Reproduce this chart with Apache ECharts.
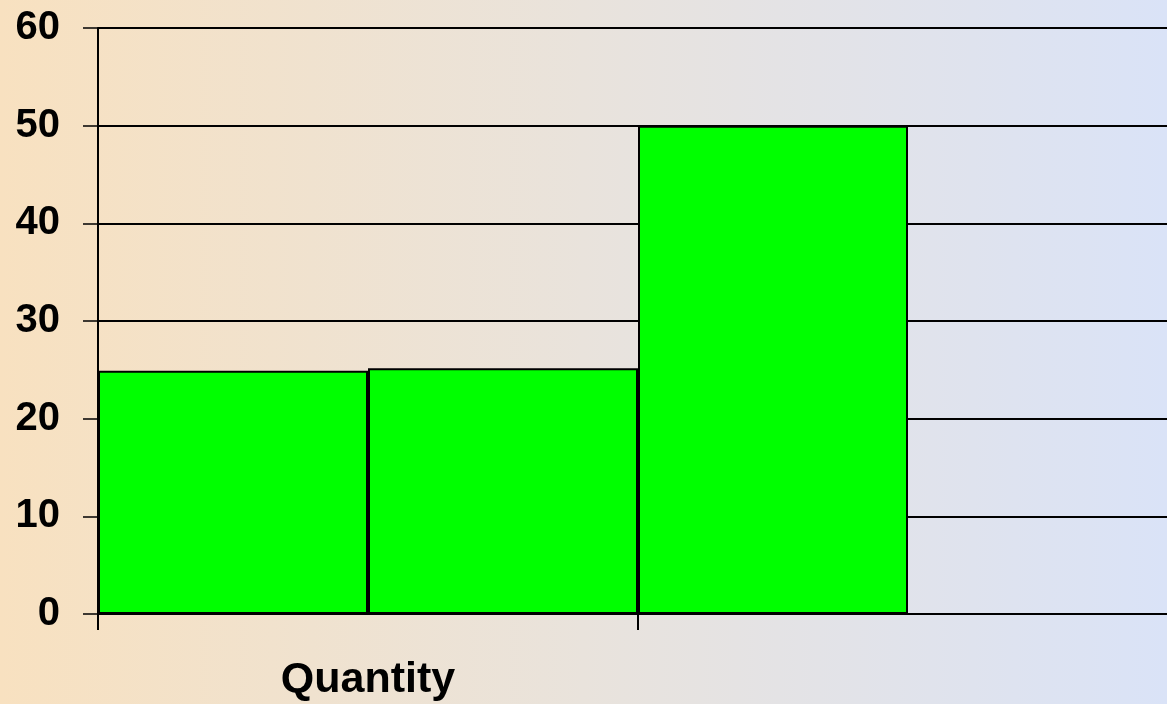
<!DOCTYPE html>
<html>
<head>
<meta charset="utf-8">
<script src="https://cdn.jsdelivr.net/npm/echarts@6/dist/echarts.min.js"></script>
<style>
  html, body { margin: 0; padding: 0; }
  #chart { width: 1167px; height: 704px; }
</style>
</head>
<body>
<div id="chart"></div>
<script>
{
    /* data */
    const categories = ['Quantity', ''];
    const seriesA = [24.9, 50];
    const seriesB = [25.15, null];
    const yTicks = [0, 10, 20, 30, 40, 50, 60];

    const chart = echarts.init(document.getElementById('chart'));

    const barStyle = {
        color: '#00ff00',
        borderColor: '#000',
        borderWidth: 2
    };

    const option = {
        backgroundColor: new echarts.graphic.LinearGradient(0, 0, 1, 0, [
            { offset: 0, color: '#f8e1c0' },
            { offset: 0.5, color: '#e9e3dc' },
            { offset: 1, color: '#dae3f7' }
        ]),
        animation: false,
        // plot runs past the right edge, second category is cut off
        grid: { left: 98, top: 28, right: -11, bottom: 90, outerBoundsMode: 'none' },
        xAxis: {
            type: 'category',
            data: categories,
            axisLine: { lineStyle: { color: '#000', width: 2 } },
            axisTick: { show: true, length: 16, lineStyle: { color: '#000', width: 2 } },
            axisLabel: {
                color: '#000', fontSize: 43, fontWeight: 'bold',
                fontFamily: 'Liberation Sans', margin: 45
            }
        },
        yAxis: {
            type: 'value',
            min: yTicks[0],
            max: yTicks[yTicks.length - 1],
            interval: 10,
            axisLine: { show: true, lineStyle: { color: '#000', width: 2 } },
            axisTick: { show: true, length: 15, lineStyle: { color: '#000', width: 1.5 } },
            axisLabel: {
                color: '#000', fontSize: 40, fontWeight: 'bold',
                fontFamily: 'Liberation Sans', margin: 38
            },
            splitLine: { show: true, lineStyle: { color: '#000', width: 2 } }
        },
        series: [
            {
                type: 'bar',
                data: seriesA,
                barGap: 0,
                barCategoryGap: 0,
                itemStyle: barStyle
            },
            {
                type: 'bar',
                data: seriesB,
                barGap: 0,
                barCategoryGap: 0,
                itemStyle: barStyle
            }
        ]
    };

    chart.setOption(option);
}
</script>
</body>
</html>
